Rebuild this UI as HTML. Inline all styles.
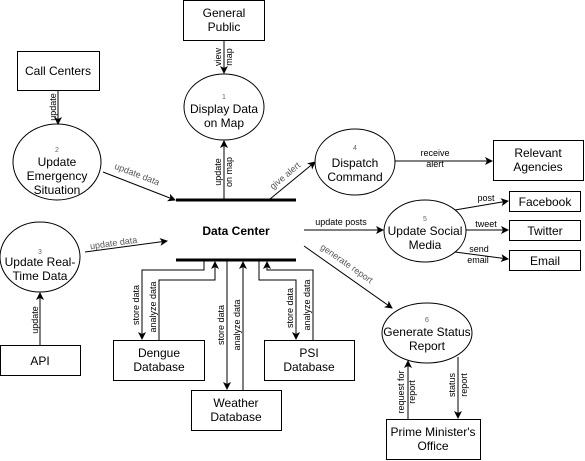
<!DOCTYPE html>
<html><head><meta charset="utf-8"><style>
html,body{margin:0;padding:0;background:#fff;}
svg{display:block;font-family:"Liberation Sans",Arial,sans-serif;}
</style></head><body>
<svg width="585" height="461" viewBox="0 0 585 461" xmlns="http://www.w3.org/2000/svg">
<defs>
<marker id="a" markerWidth="8" markerHeight="8" refX="7" refY="4" orient="auto" markerUnits="userSpaceOnUse">
<path d="M0,0 L8,4 L0,8 L2,4 z" fill="#000"/></marker>
</defs>
<g fill="#fff" stroke="#000" stroke-width="1">
<rect x="183.5" y="0.5" width="81" height="40"/>
<rect x="17.5" y="51.5" width="82" height="39"/>
<rect x="493.5" y="140.5" width="90" height="40"/>
<rect x="509.5" y="191.5" width="71" height="20"/>
<rect x="509.5" y="220.5" width="71" height="20"/>
<rect x="509.5" y="250.5" width="71" height="20"/>
<rect x="0.5" y="345.5" width="80" height="30"/>
<rect x="113.5" y="340.5" width="91" height="40"/>
<rect x="191.5" y="390.5" width="90" height="40"/>
<rect x="264.5" y="340.5" width="90" height="40"/>
<rect x="386.5" y="419.5" width="94" height="40"/>
<ellipse cx="224" cy="107" rx="40" ry="33"/>
<ellipse cx="57" cy="162" rx="44" ry="38"/>
<ellipse cx="40" cy="257" rx="40" ry="35"/>
<ellipse cx="355" cy="162" rx="40" ry="33"/>
<ellipse cx="425" cy="231" rx="41" ry="31"/>
<ellipse cx="427" cy="333" rx="45" ry="30"/>
</g>
<g stroke="#000" stroke-width="3">
<line x1="176" y1="200" x2="296" y2="200"/>
<line x1="176" y1="260" x2="296" y2="260"/>
</g>
<g stroke="#000" stroke-width="1" fill="none" marker-end="url(#a)">
<line x1="224" y1="41" x2="224" y2="73"/>
<line x1="58" y1="91" x2="58" y2="124"/>
<line x1="103" y1="172" x2="175" y2="200"/>
<line x1="224" y1="199" x2="224" y2="141"/>
<line x1="270" y1="199" x2="315" y2="162"/>
<line x1="395" y1="161" x2="492" y2="161"/>
<line x1="304" y1="230" x2="383" y2="230"/>
<line x1="455" y1="210" x2="508" y2="201"/>
<line x1="466" y1="230" x2="508" y2="230"/>
<line x1="455" y1="252" x2="508" y2="259"/>
<line x1="304" y1="246" x2="392" y2="308"/>
<line x1="85" y1="252" x2="167" y2="241"/>
<line x1="40" y1="345" x2="40" y2="293"/>
<polyline points="204,260 204,270 142,270 142,339"/>
<polyline points="159,340 159,280 215,280 215,262"/>
<line x1="227" y1="261" x2="227" y2="389"/>
<line x1="243" y1="390" x2="243" y2="262"/>
<polyline points="259,261 259,280 296,280 296,339"/>
<polyline points="313,340 313,270 267,270 267,262"/>
<line x1="408" y1="419" x2="408" y2="361"/>
<line x1="458" y1="357" x2="458" y2="418"/>
</g>
<g font-size="12" text-anchor="middle" fill="#000">
<text x="224" y="17">General</text><text x="224" y="31">Public</text>
<text x="58" y="75">Call Centers</text>
<text x="538" y="157">Relevant</text><text x="538" y="171">Agencies</text>
<text x="545" y="206">Facebook</text>
<text x="545" y="235">Twitter</text>
<text x="545" y="265">Email</text>
<text x="40" y="365">API</text>
<text x="159" y="357">Dengue</text><text x="159" y="371">Database</text>
<text x="236" y="407">Weather</text><text x="236" y="421">Database</text>
<text x="309" y="357">PSI</text><text x="309" y="371">Database</text>
<text x="433" y="436">Prime Minister's</text><text x="433" y="450">Office</text>
<text x="224" y="113">Display Data</text><text x="224" y="127">on Map</text>
<text x="57" y="166">Update</text><text x="57" y="180">Emergency</text><text x="57" y="194">Situation</text>
<text x="40" y="266">Update Real-</text><text x="40" y="280">Time Data</text>
<text x="355" y="167">Dispatch</text><text x="355" y="181">Command</text>
<text x="425" y="235">Update Social</text><text x="425" y="249">Media</text>
<text x="427" y="336">Generate Status</text><text x="427" y="350">Report</text>
<text x="236" y="235" font-weight="bold">Data Center</text>
</g>
<g font-size="7" text-anchor="middle" fill="#666">
<text x="224" y="99">1</text><text x="57" y="152">2</text><text x="40" y="254">3</text>
<text x="355" y="150">4</text><text x="425" y="221">5</text><text x="427" y="322">6</text>
</g>
<g font-size="9" fill="#000" text-anchor="middle">
<text transform="translate(221,57) rotate(-90)">view</text>
<text transform="translate(232,57) rotate(-90)">map</text>
<text transform="translate(56,107) rotate(-90)">update</text>
<text transform="translate(221,172) rotate(-90)">update</text>
<text transform="translate(232,172) rotate(-90)">on map</text>
<text transform="translate(38,320) rotate(-90)">update</text>
<text transform="translate(139,305) rotate(-90)">store data</text>
<text transform="translate(156,307) rotate(-90)">analyze data</text>
<text transform="translate(224,325) rotate(-90)">store data</text>
<text transform="translate(240,325) rotate(-90)">analyze data</text>
<text transform="translate(293,308) rotate(-90)">store data</text>
<text transform="translate(310,305) rotate(-90)">analyze data</text>
<text transform="translate(404,392) rotate(-90)">request for</text>
<text transform="translate(415,392) rotate(-90)">report</text>
<text transform="translate(455,385) rotate(-90)">status</text>
<text transform="translate(467,385) rotate(-90)">report</text>
<text x="435" y="156">receive</text><text x="435" y="167">alert</text>
<text x="341" y="225">update posts</text>
<text x="486" y="201">post</text>
<text x="486" y="227">tweet</text>
<text x="479" y="252">send</text><text x="478" y="263">email</text>
<text transform="translate(136,177) rotate(21)" fill="#555">update data</text>
<text transform="translate(114,246) rotate(-8)" fill="#555">update data</text>
<text transform="translate(287,178) rotate(-40)" fill="#555">give alert</text>
<text transform="translate(345,266) rotate(35)" fill="#555">generate report</text>
</g>
</svg>
</body></html>
